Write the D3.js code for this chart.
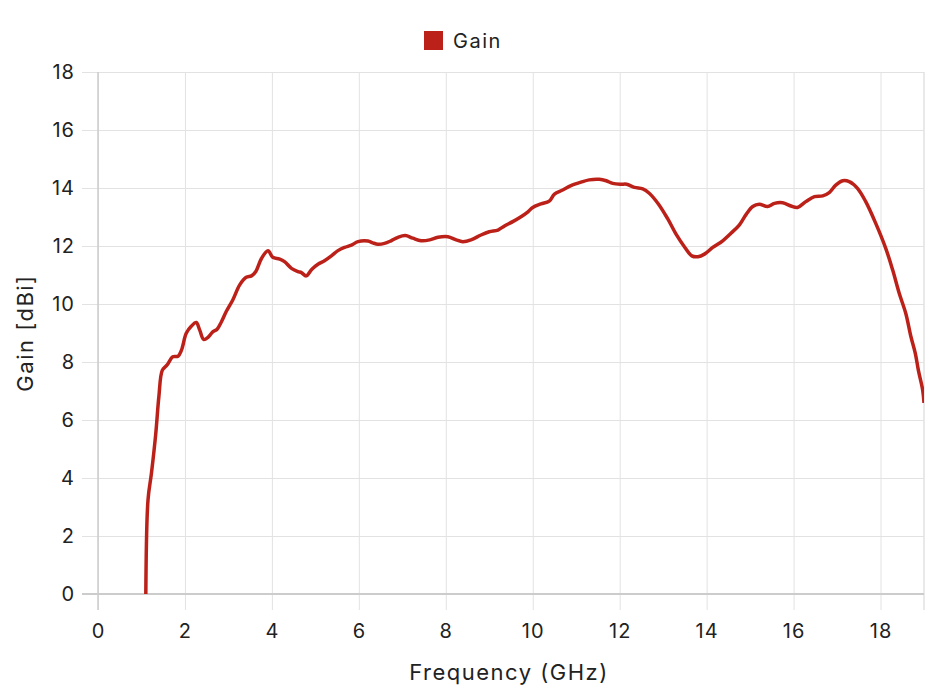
<!DOCTYPE html>
<html>
<head>
<meta charset="utf-8">
<script src="https://cdnjs.cloudflare.com/ajax/libs/d3/7.8.5/d3.min.js"></script>
<style>
  body { margin: 0; background: #fff; }
  text { font-family: Inter, "Open Sans", sans-serif; fill: #222; }
</style>
</head>
<body>
<svg id="chart" width="930" height="696"></svg>
<script>
// Data (GHz, dBi)
var freq = [1.10, 1.15, 1.23, 1.33, 1.40, 1.48, 1.59, 1.72, 1.84, 1.92, 2.03, 2.15, 2.26, 2.34, 2.43, 2.53,
  2.64, 2.74, 2.84, 2.95, 3.10, 3.26, 3.41, 3.53, 3.63, 3.76, 3.91, 4.02, 4.18, 4.29, 4.45, 4.60,
  4.68, 4.79, 4.92, 5.06, 5.21, 5.37, 5.52, 5.67, 5.83, 5.98, 6.21, 6.32, 6.44, 6.59, 6.74, 6.90,
  7.07, 7.24, 7.43, 7.63, 7.82, 8.05, 8.24, 8.39, 8.58, 8.81, 9.00, 9.20, 9.35, 9.54, 9.73, 9.89,
  10.00, 10.19, 10.38, 10.50, 10.69, 10.88, 11.11, 11.30, 11.53, 11.69, 11.84, 12.03, 12.16, 12.34,
  12.53, 12.68, 12.89, 13.10, 13.30, 13.50, 13.66, 13.80, 13.95, 14.14, 14.37, 14.56, 14.75, 14.91,
  15.06, 15.21, 15.40, 15.56, 15.75, 15.94, 16.09, 16.28, 16.48, 16.67, 16.82, 16.97, 17.13, 17.28,
  17.47, 17.66, 17.89, 18.12, 18.28, 18.43, 18.58, 18.70, 18.80, 18.87, 18.97, 19.00];
var gain = [0.0, 3.24, 4.17, 5.55, 6.8, 7.72, 7.9, 8.18, 8.2, 8.41, 8.99, 9.24, 9.36, 9.1, 8.78, 8.85,
  9.04, 9.13, 9.39, 9.74, 10.14, 10.66, 10.92, 10.97, 11.12, 11.57, 11.84, 11.61, 11.55, 11.46, 11.23, 11.12,
  11.08, 10.97, 11.2, 11.37, 11.49, 11.66, 11.84, 11.95, 12.03, 12.15, 12.17, 12.11, 12.06, 12.09, 12.18, 12.3,
  12.36, 12.27, 12.18, 12.21, 12.3, 12.32, 12.21, 12.15, 12.21, 12.38, 12.49, 12.55, 12.69, 12.84, 13.01, 13.18,
  13.33, 13.45, 13.55, 13.79, 13.93, 14.08, 14.2, 14.28, 14.3, 14.25, 14.16, 14.13, 14.13, 14.02,
  13.97, 13.82, 13.45, 12.95, 12.4, 11.95, 11.66, 11.63, 11.72, 11.95, 12.18, 12.44, 12.72, 13.09,
  13.36, 13.44, 13.36, 13.47, 13.49, 13.38, 13.33, 13.53, 13.7, 13.73, 13.84, 14.1, 14.25, 14.22,
  13.99, 13.53, 12.78, 11.92, 11.17, 10.37, 9.68, 8.87, 8.3, 7.72, 7.03, 6.59];
var xTicks = [0, 2, 4, 6, 8, 10, 12, 14, 16, 18];
var yTicks = [0, 2, 4, 6, 8, 10, 12, 14, 16, 18];
var seriesName = "Gain";

var svg = d3.select("#chart");
var color = "#bb2119";
var margin = { top: 72, right: 6, bottom: 102, left: 98 };
var width = 930 - margin.left - margin.right;
var height = 696 - margin.top - margin.bottom;

var x = d3.scaleLinear().domain([0, 19]).range([0, width]);
var y = d3.scaleLinear().domain([0, 18]).range([height, 0]);

var g = svg.append("g").attr("transform", "translate(" + margin.left + "," + margin.top + ")");

// grid + ticks
g.append("g")
  .attr("transform", "translate(0," + height + ")")
  .call(d3.axisBottom(x).tickValues(xTicks).tickSize(0).tickSizeOuter(0))
  .call(function(a) {
    a.select(".domain").remove();
    a.selectAll(".tick line").attr("stroke", "#e2e2e2").attr("y2", 16).attr("y1", -height);
    a.selectAll(".tick text")
      .attr("y", 44).attr("dy", 0)
      .style("font-size", "20px")
      .style("letter-spacing", "1px");
  });

g.append("g")
  .call(d3.axisLeft(y).tickValues(yTicks).tickSize(0).tickPadding(23))
  .call(function(a) {
    a.select(".domain").remove();
    a.selectAll(".tick line").attr("stroke", "#e2e2e2").attr("x1", -16).attr("x2", width);
    a.selectAll(".tick text")
      .style("font-size", "20px")
      .style("letter-spacing", "1px");
  });

// right edge line
g.append("line")
  .attr("x1", width).attr("x2", width).attr("y1", 0).attr("y2", height + 16)
  .attr("stroke", "#e2e2e2").attr("stroke-width", 1.5);

// baseline and left axis are a little darker
g.append("line")
  .attr("x1", -16).attr("x2", width).attr("y1", height).attr("y2", height)
  .attr("stroke", "#cccccc").attr("stroke-width", 2);
g.append("line")
  .attr("x1", 0).attr("x2", 0).attr("y1", 0).attr("y2", height + 16)
  .attr("stroke", "#cccccc").attr("stroke-width", 1.5);

// the curve
svg.append("clipPath").attr("id", "clip")
  .append("rect").attr("x", 0).attr("y", -5).attr("width", width).attr("height", height + 5);

var line = d3.line()
  .x(function(d, i) { return x(freq[i]); })
  .y(function(d) { return y(d); })
  .curve(d3.curveCatmullRom.alpha(0.5));

g.append("path")
  .attr("clip-path", "url(#clip)")
  .attr("d", line(gain))
  .attr("fill", "none")
  .attr("stroke", color)
  .attr("stroke-width", 3.5)
  .attr("stroke-linejoin", "round");

// axis titles
svg.append("text")
  .attr("x", margin.left + width / 2 - 2)
  .attr("y", 680)
  .attr("text-anchor", "middle")
  .style("font-size", "22px")
  .style("letter-spacing", "1.5px")
  .text("Frequency (GHz)");

svg.append("text")
  .attr("transform", "translate(33," + (margin.top + height / 2) + ") rotate(-90)")
  .attr("text-anchor", "middle")
  .style("font-size", "22px")
  .style("letter-spacing", "1.5px")
  .text("Gain [dBi]");

// legend
svg.append("rect")
  .attr("x", 424).attr("y", 31).attr("width", 19).attr("height", 19)
  .attr("fill", color);
svg.append("text")
  .attr("x", 453).attr("y", 48)
  .style("font-size", "20px")
  .style("letter-spacing", "1.5px")
  .text(seriesName);
</script>
</body>
</html>
